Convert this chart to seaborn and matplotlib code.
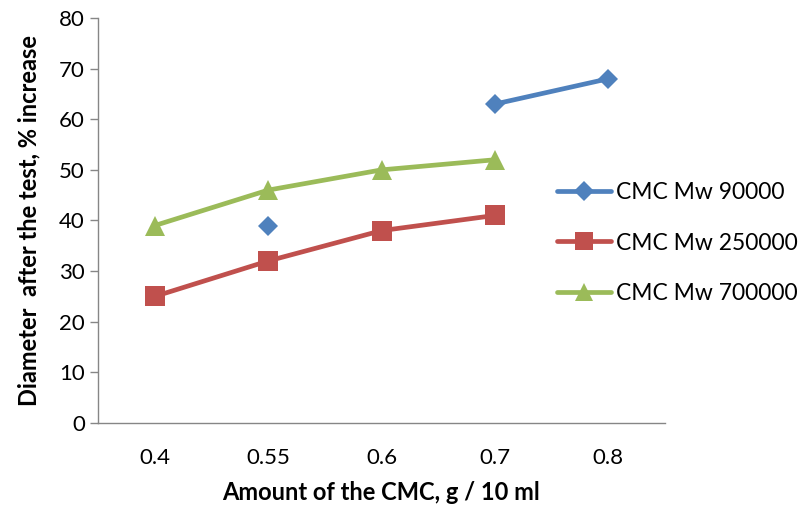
import numpy as np
import pandas as pd
import matplotlib
matplotlib.use("Agg")
import matplotlib.pyplot as plt
from matplotlib.lines import Line2D
import seaborn as sns

categories = ["0.4", "0.55", "0.6", "0.7", "0.8"]
series_names = ["CMC Mw 90000", "CMC Mw 250000", "CMC Mw 700000"]
mw90000 = [np.nan, 39, np.nan, 63, 68]
mw250000 = [25, 32, 38, 41, np.nan]
mw700000 = [39, 46, 50, 52, np.nan]

colors = ["#4F81BD", "#C0504D", "#9BBB59"]
markers = ["D", "s", "^"]
msizes = [10.5, 14, 14]

sns.set_theme(style="white")
plt.rcParams["font.family"] = ["Lato", "DejaVu Sans"]

fig = plt.figure(figsize=(8.07, 5.08), dpi=100)
ax = fig.add_axes([98/807, 1-423/508, (665-98)/807, (423-18)/508])

rows = []
for name, vals in zip(series_names, [mw90000, mw250000, mw700000]):
    seg = 0
    prev_nan = True
    for i, v in enumerate(vals):
        if np.isnan(v):
            if not prev_nan:
                seg += 1
            prev_nan = True
            continue
        prev_nan = False
        rows.append({"series": name, "x": i, "y": v, "seg": seg})
df = pd.DataFrame(rows)

handles = []
for name, c, m, ms in zip(series_names, colors, markers, msizes):
    sub = df[df["series"] == name]
    sns.lineplot(data=sub, x="x", y="y", units="seg", estimator=None, ax=ax,
                 color=c, marker=m, markersize=ms, linewidth=3.4,
                 markeredgewidth=0, legend=False)
    handles.append(Line2D([0], [0], color=c, marker=m, markersize=ms * 0.95,
                          linewidth=3.4, markeredgewidth=0, label=name))

ax.set_xlim(-0.5, len(categories) - 0.5)
ax.set_ylim(0, 80)
ax.set_xticks(range(len(categories)))
ax.set_xticklabels(categories)
ax.set_yticks(range(0, 81, 10))

for s in ["top", "right"]:
    ax.spines[s].set_visible(False)
for s in ["left", "bottom"]:
    ax.spines[s].set_color("#868686")
    ax.spines[s].set_linewidth(1.0)

ax.tick_params(axis="y", which="major", direction="out", length=5.5, width=1.0,
               color="#868686", labelsize=16, pad=4, left=True, labelcolor="#000000")
ax.tick_params(axis="x", length=0, labelsize=16, pad=18, labelcolor="#000000")

ax.set_xlabel("Amount of the CMC, g / 10 ml", fontsize=17, fontweight="bold", color="#000000")
ax.set_ylabel("Diameter  after the test, % increase", fontsize=17, fontweight="bold", color="#000000")
ax.xaxis.set_label_coords(0.5, -0.142)
ax.yaxis.set_label_coords(-0.102, 0.5)

leg = fig.legend(handles=handles, loc="center left", bbox_to_anchor=(557/807, 1-243/508),
                 frameon=False, fontsize=16.5, handlelength=2.35, handletextpad=0.22,
                 labelspacing=1.3, borderpad=0, borderaxespad=0)
for t in leg.get_texts():
    t.set_color("#000000")

fig.savefig("out.png", dpi=100)
